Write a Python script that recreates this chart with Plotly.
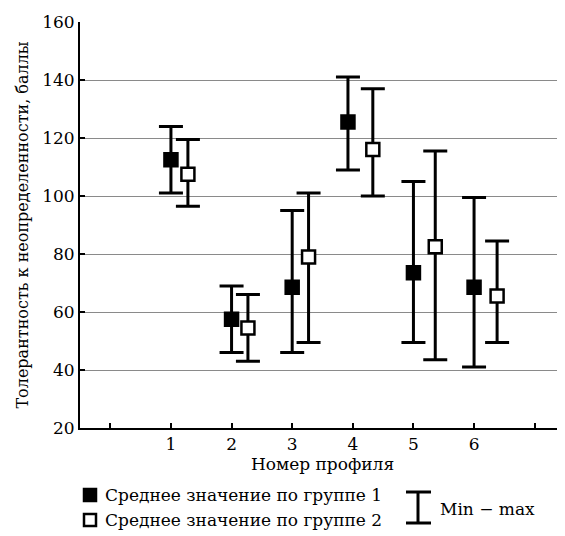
import plotly.graph_objects as go

# ---- data ----
profiles = [1, 2, 3, 4, 5, 6]
tick_vals = [0, 1, 2, 3, 4, 5, 6, 7]
tick_text = ["", "1", "2", "3", "4", "5", "6", ""]

g1_mean = [112.5, 57.5, 68.5, 125.5, 73.5, 68.5]
g1_min = [101, 46, 46, 109, 49.5, 41]
g1_max = [124, 69, 95, 141, 105, 99.5]

g2_mean = [107.5, 54.5, 79, 116, 82.5, 65.5]
g2_min = [96.5, 43, 49.5, 100, 43.5, 49.5]
g2_max = [119.5, 66, 101, 137, 115.5, 84.5]

# horizontal placement of the two groups around each profile tick
g1_offset = [0, 0, 0, -0.08, 0, 0]
g2_offset = [0.28, 0.27, 0.27, 0.33, 0.36, 0.38]

FONT = "DejaVu Serif"
PAGE_OFF = 8  # default body margin of the page
W, H = 565 - PAGE_OFF, 536 - PAGE_OFF
ML, MR, MT, MB = 80 - PAGE_OFF, 0, 22 - PAGE_OFF, 108
PW, PH = W - ML - MR, H - MT - MB


def px(x):
    return (x - PAGE_OFF - ML) / PW


def py(y):
    return (H - MB - (y - PAGE_OFF)) / PH


fig = go.Figure()


def add_group(mean, lo, hi, off, name, fill):
    xs = [p + o for p, o in zip(profiles, off)]
    fig.add_trace(go.Scatter(
        x=xs, y=mean, mode="markers", name=name,
        marker=dict(symbol="square", size=13, color=fill,
                    line=dict(color="black", width=2.5)),
        error_y=dict(type="data", symmetric=False,
                     array=[h - m for h, m in zip(hi, mean)],
                     arrayminus=[m - l for m, l in zip(mean, lo)],
                     color="black", thickness=3, width=12),
        showlegend=False,
    ))


add_group(g1_mean, g1_min, g1_max, g1_offset, "Среднее значение по группе 1", "black")
add_group(g2_mean, g2_min, g2_max, g2_offset, "Среднее значение по группе 2", "white")

shapes = []
annotations = []
legend_rows = [("Среднее значение по группе 1", "black", 495),
               ("Среднее значение по группе 2", "white", 520)]
for label, fill, yy in legend_rows:
    shapes.append(dict(type="rect", xref="paper", yref="paper",
                       x0=px(84), x1=px(96), y0=py(yy + 6), y1=py(yy - 6),
                       fillcolor=fill, line=dict(color="black", width=2.5)))
    annotations.append(dict(xref="paper", yref="paper", x=px(103), y=py(yy),
                            xanchor="left", yanchor="middle", showarrow=False,
                            text=label, font=dict(family=FONT, size=17, color="black")))

# min-max key
shapes += [
    dict(type="line", xref="paper", yref="paper", x0=px(418), x1=px(418),
         y0=py(492), y1=py(523), line=dict(color="black", width=3)),
    dict(type="line", xref="paper", yref="paper", x0=px(406), x1=px(431),
         y0=py(492), y1=py(492), line=dict(color="black", width=3)),
    dict(type="line", xref="paper", yref="paper", x0=px(406), x1=px(431),
         y0=py(523), y1=py(523), line=dict(color="black", width=3)),
]
annotations.append(dict(xref="paper", yref="paper", x=px(438), y=py(509),
                        xanchor="left", yanchor="middle", showarrow=False,
                        text="Min \u2212 max", font=dict(family=FONT, size=17, color="black")))

fig.update_layout(
    width=W, height=H,
    margin=dict(l=ML, r=MR, t=MT, b=MB),
    paper_bgcolor="white", plot_bgcolor="white",
    font=dict(family=FONT, size=17, color="black"),
    shapes=shapes, annotations=annotations,
    xaxis=dict(range=[-0.5, 7.5], tickvals=tick_vals, ticktext=tick_text,
               showgrid=False, zeroline=False, showline=True, linecolor="black",
               linewidth=2, ticks="inside", ticklen=5, tickwidth=2, tickcolor="black",
               tickfont=dict(family=FONT, size=17),
               title=dict(text="Номер профиля", standoff=2,
                          font=dict(family=FONT, size=17))),
    yaxis=dict(range=[20, 160], dtick=20, tick0=20,
               showgrid=True, gridcolor="#8a8a8a", gridwidth=1,
               zeroline=False, showline=True, linecolor="black", linewidth=2,
               ticks="inside", ticklen=5, tickwidth=2, tickcolor="black",
               tickfont=dict(family=FONT, size=17),
               title=dict(text="Толерантность к неопределенности, баллы", standoff=10,
                          font=dict(family=FONT, size=16))),
)

fig.write_html("out.html")
